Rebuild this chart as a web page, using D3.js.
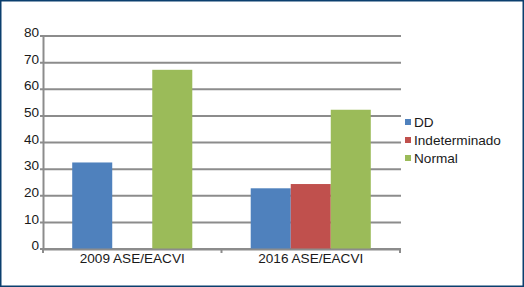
<!DOCTYPE html>
<html>
<head>
<meta charset="utf-8">
<script src="https://cdn.jsdelivr.net/npm/d3@7"></script>
<style>
  html, body { margin: 0; padding: 0; background: #fff; }
  svg { display: block; }
  text { font-family: "Liberation Sans", Arial, sans-serif; fill: #1a1a1a; }
</style>
</head>
<body>
<div id="chart"></div>
<script>
// Chart data
var categories = ["2009 ASE/EACVI", "2016 ASE/EACVI"];
var seriesNames = ["DD", "Indeterminado", "Normal"];
var seriesColors = ["#4f81bd", "#c0504d", "#9bbb59"];
var ddValues = [32.5, 22.8];
var indetValues = [0, 24.4];
var normalValues = [67.3, 52.3];
var yTicks = [0, 10, 20, 30, 40, 50, 60, 70, 80];

function init() {
    var w = 524, h = 287;
    var left = 43, right = 400, top = 36, bottom = 249;
    var fs = 13.6;

    var svg = d3.select("#chart").append("svg")
        .attr("width", w)
        .attr("height", h);

    // outer frame
    svg.append("rect")
        .attr("x", 0.75).attr("y", 0.75)
        .attr("width", w - 1.5).attr("height", h - 1.5)
        .attr("fill", "none")
        .attr("stroke", "#0b3f6e")
        .attr("stroke-width", 1.5);

    var yScale = d3.scaleLinear().domain([0, 80]).range([bottom, top]);
    var xScale = d3.scaleBand().domain(categories).range([left, right]);
    var inner = d3.scaleBand().domain(seriesNames)
        .range([0, xScale.bandwidth()])
        .paddingOuter(0.73).paddingInner(0);

    // gridlines
    svg.append("g").selectAll("line")
        .data(yTicks)
        .enter().append("line")
        .attr("x1", left - 3).attr("x2", right + 1)
        .attr("y1", function(d) { return yScale(d); })
        .attr("y2", function(d) { return yScale(d); })
        .attr("stroke", "#8c8c8c")
        .attr("stroke-width", 2);

    // y axis
    var yAxis = d3.axisLeft(yScale).tickValues(yTicks).tickSize(0).tickPadding(4);
    var gy = svg.append("g")
        .attr("transform", "translate(" + left + ",0)")
        .call(yAxis);
    gy.select(".domain").attr("stroke", "#8c8c8c").attr("stroke-width", 2);
    gy.selectAll("text").attr("font-size", fs).attr("dy", "0.05em");

    // bars
    var data = [ddValues, indetValues, normalValues];
    seriesNames.forEach(function(name, s) {
        svg.append("g").selectAll("rect")
            .data(data[s])
            .enter().append("rect")
            .attr("x", function(d, i) { return xScale(categories[i]) + inner(name); })
            .attr("y", function(d) { return yScale(d); })
            .attr("width", inner.bandwidth())
            .attr("height", function(d) { return bottom - yScale(d); })
            .attr("fill", seriesColors[s]);
    });

    // x axis
    var xAxis = d3.axisBottom(xScale).tickSize(0).tickPadding(4);
    var gx = svg.append("g")
        .attr("transform", "translate(0," + bottom + ")")
        .call(xAxis);
    gx.select(".domain").attr("stroke", "#8c8c8c").attr("stroke-width", 2);
    gx.selectAll("text").attr("font-size", fs);
    // category separators
    gx.selectAll(".sep")
        .data([left, xScale(categories[1]), right])
        .enter().append("line")
        .attr("x1", function(d) { return d; }).attr("x2", function(d) { return d; })
        .attr("y1", 0).attr("y2", 4)
        .attr("stroke", "#8c8c8c").attr("stroke-width", 2);

    // legend
    var legend = svg.append("g").attr("transform", "translate(405,122)");
    var items = legend.selectAll("g")
        .data(seriesNames)
        .enter().append("g")
        .attr("transform", function(d, i) { return "translate(0," + (i * 18) + ")"; });
    items.append("rect")
        .attr("x", 0).attr("y", -3)
        .attr("width", 6).attr("height", 6)
        .attr("fill", function(d, i) { return seriesColors[i]; });
    items.append("text")
        .attr("x", 9).attr("y", 0)
        .attr("dy", "0.35em")
        .attr("font-size", fs)
        .text(function(d) { return d; });
}
window.onload = init;
</script>
</body>
</html>
